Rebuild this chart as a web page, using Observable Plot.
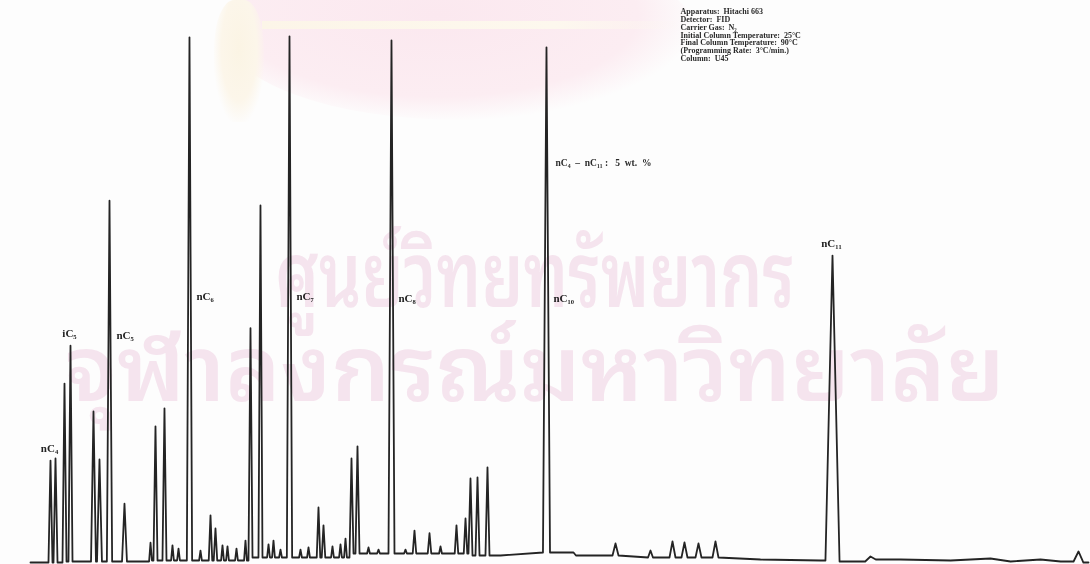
<!DOCTYPE html>
<html>
<head>
<meta charset="utf-8">
<script src="https://cdn.jsdelivr.net/npm/d3@7"></script>
<script src="https://cdn.jsdelivr.net/npm/@observablehq/plot@0.6"></script>
<style>
  html, body { margin: 0; padding: 0; background: #fdfdfd; }
  #sheet { position: relative; width: 1090px; height: 564px; overflow: hidden; background: #fdfdfd; }
  .seal { position: absolute; left: 225px; top: -55px; width: 470px; height: 175px; border-radius: 50%;
          background: radial-gradient(ellipse at 45% 40%, #fbe8ef 0%, #fcedf2 55%, rgba(253,244,247,0) 72%); }
  .band { position: absolute; left: 262px; top: 21px; width: 420px; height: 8px;
          background: linear-gradient(90deg, #fcf5e8, #fdf8ee 70%, rgba(253,248,238,0)); }
  .tassel { position: absolute; left: 214px; top: 0px; width: 50px; height: 122px; border-radius: 40% 40% 30% 30%;
            background: radial-gradient(ellipse at 50% 40%, #fbf4e4 0%, #fcf6ea 50%, rgba(252,246,234,0) 75%); }
  .wm { position: absolute; color: #f5e4ee; font-weight: 600;
        font-family: "Noto Sans Thai Looped", "Loma", "Garuda", "Kinnari", "Norasi", "Noto Serif Thai", "Noto Sans Thai", sans-serif;
        white-space: nowrap; line-height: 1; }
  #plot { position: absolute; left: 0; top: 0; }
  #plot svg { background: transparent !important; filter: blur(0.35px); }
</style>
</head>
<body>
<div id="sheet">
  <div class="seal"></div>
  <div class="band"></div>
  <div class="tassel"></div>
  <div class="wm" id="wm1">ศูนย์วิทยทรัพยากร</div>
  <div class="wm" id="wm2">จุฬาลงกรณ์มหาวิทยาลัย</div>
  <div id="plot"></div>
</div>
<script>
// Retention time (min) and detector signal (% of full scale)

// Baseline drift between peaks
const baseline = [
  {t: 0.00, level: -0.95}, {t: 1.99, level: -0.76}, {t: 4.82, level: -0.57},
  {t: 7.66, level: 0.00}, {t: 10.49, level: 0.76}, {t: 11.63, level: 0.76},
  {t: 13.33, level: 0.38}, {t: 14.60, level: 0.95}, {t: 16.16, level: 0.38},
  {t: 17.58, level: 0.00}, {t: 19.00, level: 0.00}, {t: 20.70, level: -0.38},
  {t: 22.40, level: -0.57}, {t: 23.25, level: -0.76}, {t: 24.67, level: -0.38},
  {t: 26.09, level: -0.57}, {t: 27.22, level: -0.19}, {t: 27.79, level: -0.76},
  {t: 28.64, level: -0.38}, {t: 29.21, level: -0.76}, {t: 30.00, level: -0.95}
];

// Peaks: retention time, apex height, half width at base
const peaks = [
  {t: 0.567, h: 18.4, w: 0.057}, {t: 0.709, h: 18.8, w: 0.057},
  {t: 0.964, h: 33.0, w: 0.057}, {t: 1.134, h: 40.2, w: 0.057},
  {t: 1.786, h: 27.7, w: 0.070}, {t: 1.956, h: 18.6, w: 0.070},
  {t: 2.240, h: 67.7, w: 0.075}, {t: 2.665, h: 10.2, w: 0.070},
  {t: 3.403, h: 2.8, w: 0.040}, {t: 3.544, h: 24.9, w: 0.057},
  {t: 3.799, h: 28.3, w: 0.057}, {t: 4.026, h: 2.3, w: 0.040},
  {t: 4.197, h: 1.7, w: 0.040}, {t: 4.508, h: 98.7, w: 0.075},
  {t: 4.820, h: 1.3, w: 0.040}, {t: 5.104, h: 8.0, w: 0.050},
  {t: 5.245, h: 5.5, w: 0.050}, {t: 5.444, h: 2.3, w: 0.040},
  {t: 5.586, h: 2.1, w: 0.040}, {t: 5.841, h: 1.7, w: 0.040},
  {t: 6.096, h: 3.2, w: 0.040}, {t: 6.238, h: 43.5, w: 0.057},
  {t: 6.521, h: 66.8, w: 0.057}, {t: 6.749, h: 2.5, w: 0.040},
  {t: 6.890, h: 3.2, w: 0.040}, {t: 7.089, h: 1.5, w: 0.040},
  {t: 7.344, h: 98.9, w: 0.075}, {t: 7.656, h: 1.5, w: 0.040},
  {t: 7.883, h: 1.9, w: 0.040}, {t: 8.166, h: 9.5, w: 0.050},
  {t: 8.308, h: 6.1, w: 0.050}, {t: 8.563, h: 2.1, w: 0.040},
  {t: 8.790, h: 2.5, w: 0.040}, {t: 8.932, h: 3.6, w: 0.040},
  {t: 9.102, h: 18.8, w: 0.057}, {t: 9.272, h: 21.1, w: 0.057},
  {t: 9.584, h: 1.9, w: 0.040}, {t: 9.868, h: 1.5, w: 0.040},
  {t: 10.236, h: 98.1, w: 0.085}, {t: 10.633, h: 1.5, w: 0.040},
  {t: 10.888, h: 5.1, w: 0.050}, {t: 11.314, h: 4.6, w: 0.050},
  {t: 11.626, h: 2.1, w: 0.040}, {t: 12.079, h: 6.1, w: 0.050},
  {t: 12.335, h: 7.4, w: 0.050}, {t: 12.476, h: 15.0, w: 0.057},
  {t: 12.675, h: 15.2, w: 0.057}, {t: 12.958, h: 17.1, w: 0.057},
  {t: 14.631, h: 96.8, w: 0.100}, {t: 15.397, h: 0.95, w: 0.070},
  {t: 16.588, h: 2.66, w: 0.085}, {t: 17.580, h: 1.33, w: 0.070},
  {t: 18.204, h: 3.04, w: 0.085}, {t: 18.544, h: 2.85, w: 0.085},
  {t: 18.941, h: 2.66, w: 0.085}, {t: 19.423, h: 3.04, w: 0.085},
  {t: 22.741, h: 57.3, w: 0.200}, {t: 23.818, h: 0.19, w: 0.150},
  {t: 29.716, h: 1.14, w: 0.140}
];

// Component labels placed beside their peaks
const peakLabels = [
  {name: "nC₄", t: 0.567, level: 20.6, side: "middle"},
  {name: "iC₅", t: 1.134, level: 42.5, side: "middle"},
  {name: "nC₅", t: 2.240, level: 42.2, side: "right"},
  {name: "nC₆", t: 4.508, level: 49.5, side: "right"},
  {name: "nC₇", t: 7.344, level: 49.5, side: "right"},
  {name: "nC₈", t: 10.236, level: 49.2, side: "right"},
  {name: "nC₁₀", t: 14.631, level: 49.2, side: "right"},
  {name: "nC₁₁", t: 22.741, level: 59.5, side: "middle"}
];

const conditions = [
  "Apparatus:  Hitachi 663",
  "Detector:  FID",
  "Carrier Gas:  N₂",
  "Initial Column Temperature:  25°C",
  "Final Column Temperature:  90°C",
  "(Programming Rate:  3°C/min.)",
  "Column:  U45"
];

const sampleNote = "nC₄  –  nC₁₁ :   5  wt.  %";

// Assemble the detector trace: baseline knots outside peaks plus each peak's feet and apex
const levelAt = t => d3.least(baseline, b => Math.abs(b.t - t)).level;
const trace = [
  ...baseline.filter(b => !peaks.some(p => Math.abs(b.t - p.t) <= p.w)),
  ...peaks.flatMap(p => [
    {t: p.t - p.w, level: levelAt(p.t - p.w)},
    {t: p.t, level: p.h},
    {t: p.t + p.w, level: levelAt(p.t + p.w)}
  ])
].sort((a, b) => a.t - b.t);

const labelFont = {fontFamily: "Liberation Serif", fontWeight: "bold", fontSize: 11, fill: "#222"};

const chart = Plot.plot({
  width: 1090,
  height: 564,
  marginTop: 0, marginRight: 0, marginBottom: 0, marginLeft: 0,
  x: {domain: [0, 30], range: [30, 1088], axis: null},
  y: {domain: [0, 100], range: [557, 30], axis: null},
  style: {background: "transparent"},
  marks: [
    Plot.line(trace, {x: "t", y: "level", stroke: "#242424", strokeWidth: 1.8, curve: "linear"}),
    Plot.text(peakLabels.filter(d => d.side === "middle"), {x: "t", y: "level", text: "name", textAnchor: "middle", dx: -1, ...labelFont}),
    Plot.text(peakLabels.filter(d => d.side === "right"), {x: "t", y: "level", text: "name", textAnchor: "start", dx: 7, ...labelFont}),
    Plot.text([conditions.join("\n")], {
      frameAnchor: "top-left", dx: 680, dy: 8, lineAnchor: "top", textAnchor: "start",
      lineHeight: 0.98, fontFamily: "Liberation Serif", fontWeight: "bold", fontSize: 8, fill: "#2a2a2a"
    }),
    Plot.text([sampleNote], {
      frameAnchor: "top-left", dx: 555, dy: 159, textAnchor: "start",
      fontFamily: "Liberation Serif", fontWeight: "bold", fontSize: 9.5, fill: "#2a2a2a"
    })
  ]
});

document.getElementById("plot").append(chart);

// Faint watermark lettering stretched across the sheet
function fitWatermark(id, left, top, width, size) {
  const el = document.getElementById(id);
  el.style.fontSize = size + "px";
  el.style.left = left + "px";
  el.style.top = top + "px";
  const w = el.getBoundingClientRect().width;
  el.style.transformOrigin = "0 0";
  el.style.transform = `scaleX(${width / w})`;
}
fitWatermark("wm1", 275, 222, 520, 90);
fitWatermark("wm2", 65, 316, 940, 90);
</script>
</body>
</html>
